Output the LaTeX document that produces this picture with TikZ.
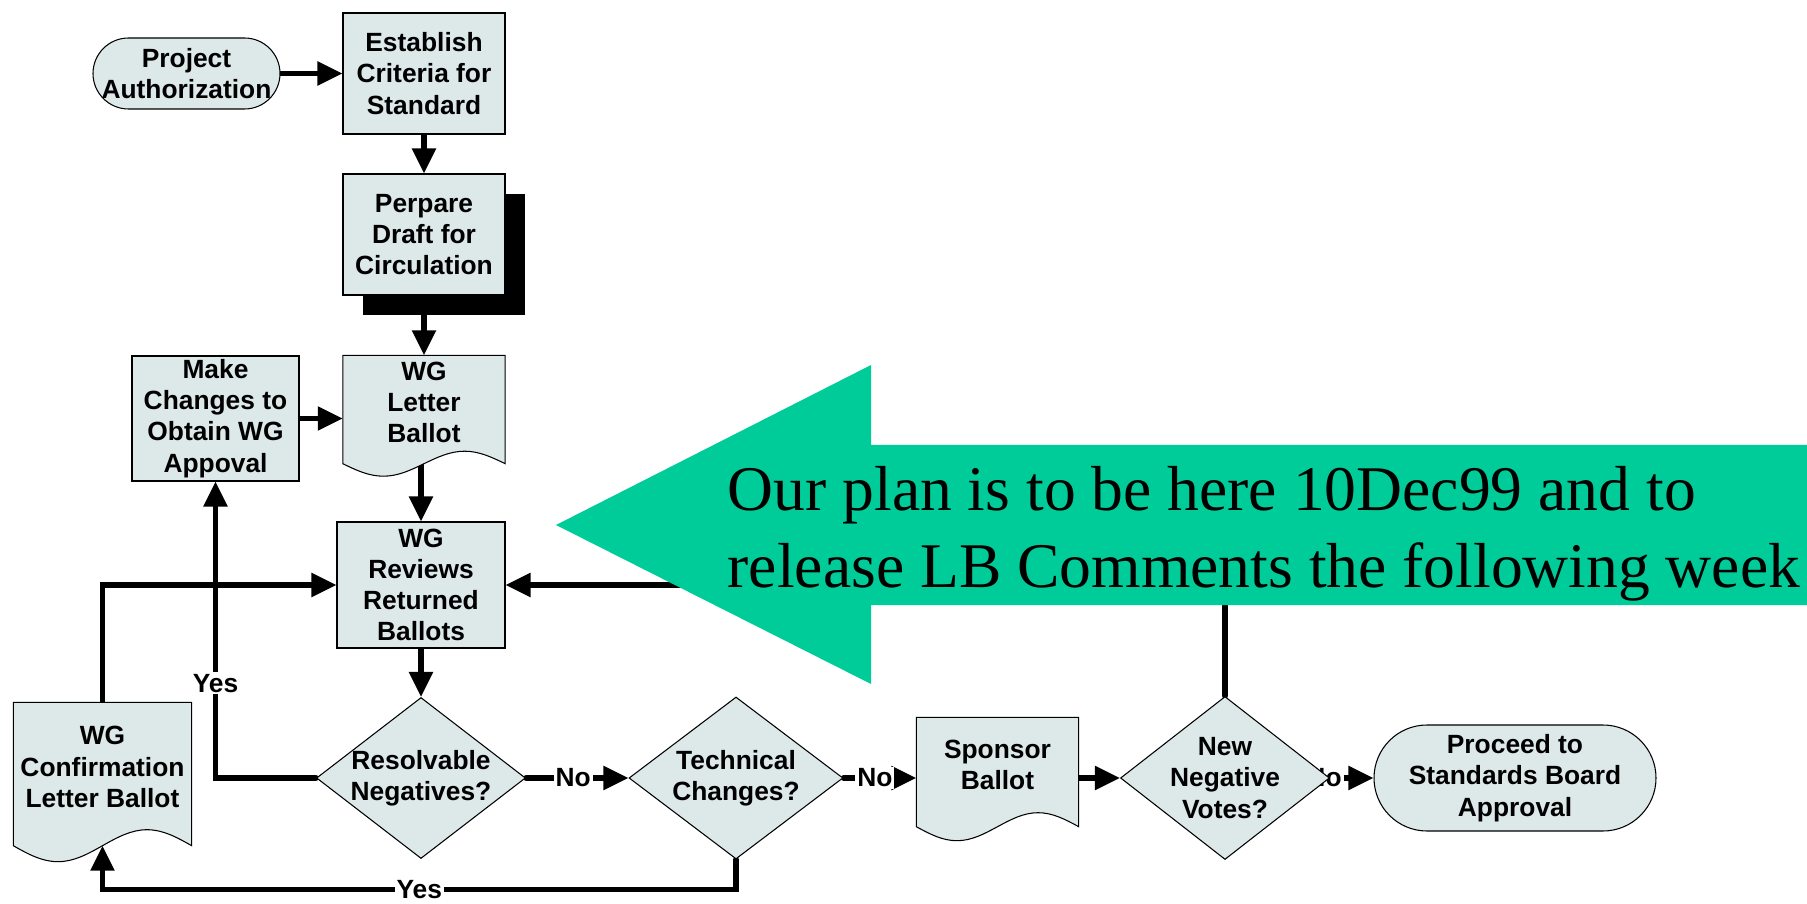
\documentclass[tikz,border=0pt]{standalone}
\usepackage{fontspec}
\setmainfont{Liberation Sans}
\newfontfamily\planfont{Liberation Serif}
\usetikzlibrary{arrows.meta,shapes.geometric,shadows,calc}

\definecolor{boxfill}{RGB}{221,232,232}
\definecolor{plangreen}{RGB}{0,204,153}

\pgfdeclarelayer{lines}
\pgfdeclarelayer{shapes}
\pgfsetlayers{lines,shapes,main}

\tikzset{
  txt/.style={font=\fontsize{7.5}{8.9}\selectfont\bfseries, align=center},
  dims/.style 2 args={minimum width=#1cm, minimum height=#2cm},
  box/.style={txt, draw, line width=0.3pt, fill=boxfill, inner sep=0pt},
  term/.style={box, rounded corners=#1},
  doc/.style={txt, inner sep=0pt, text depth=0.14cm},
  decision/.style={box, diamond, aspect=1.3, inner sep=-0.08cm},
  docline/.style={fill=boxfill, draw, line width=0.3pt},
  flow/.style={line width=0.055cm, line cap=round, -{Triangle[length=0.25cm,width=0.23cm]}},
  lbl/.style={txt, fill=white, inner sep=0.02cm},
  plan/.style={font=\planfont\fontsize{18.1}{21.9}\selectfont, align=left, inner sep=0pt}
}

% wavy bottom of a document box (node, wave height)
\newcommand\docwave[2]{%
  \filldraw[docline] let \p1=(#1.south west), \p2=(#1.north east), \n1={\x2-\x1} in
    (\p1) -- (\x1,\y2) -- (\p2) -- (\x2,\y1)
    sin ({\x2-0.25*\n1},{\y1+#2}) cos ({\x2-0.5*\n1},\y1)
    sin ({\x2-0.75*\n1},{\y1-#2}) cos (\p1) -- cycle;}

\begin{document}
\begin{tikzpicture}
	\useasboundingbox (0,0) rectangle (18.07,9.03);

	% top column
	\node[term=0.355cm, dims={1.87}{0.71}] (proj) at (1.865,8.295) {Project\\Authorization};
	\node[box, dims={1.62}{1.21}] (est) at (4.24,8.295) {Establish\\Criteria for\\Standard};
	\node[box, dims={1.62}{1.21}, drop shadow={shadow xshift=0.2cm, shadow yshift=-0.2cm, fill=black, opacity=1}] (prep) at (4.24,6.685) {Perpare\\Draft for\\Circulation};
	\node[box, dims={1.67}{1.25}] (mk) at (2.155,4.845) {Make\\Changes to\\Obtain WG\\Appoval};
	\node[doc, dims={1.61}{1.07}] (lb) at (4.24,4.935) {WG\\Letter\\Ballot};
	\node[box, dims={1.68}{1.26}] (rev) at (4.21,3.18) {WG\\Reviews\\Returned\\Ballots};

	% bottom row
	\node[doc, dims={1.77}{1.42}] (conf) at (1.025,1.29) {WG\\Confirmation\\Letter Ballot};
	\node[decision, dims={2.09}{1.61}] (res) at (4.21,1.25) {Resolvable\\Negatives?};
	\node[decision, dims={2.14}{1.62}] (tech) at (7.36,1.25) {Technical\\Changes?};
	\node[doc, dims={1.61}{1.08}] (spon) at (9.975,1.31) {Sponsor\\Ballot};
	\node[decision, dims={2.09}{1.63}] (nn) at (12.25,1.25) {New\\Negative\\Votes?};
	\node[term=0.53cm, dims={2.82}{1.06}] (proc) at (15.15,1.25) {Proceed to\\Standards Board\\Approval};

	\begin{pgfonlayer}{shapes}
		\docwave{lb}{0.125cm}
		\docwave{conf}{0.16cm}
		\docwave{spon}{0.14cm}
	\end{pgfonlayer}

	\begin{pgfonlayer}{lines}
		\draw[flow] (proj) -- (est);
		\draw[flow] (est) -- (prep);
		\draw[flow] (prep) -- (lb);
		\draw[flow] (mk.east) -- (mk.east -| lb.west);
		\draw[flow] (lb.south -| rev.north) -- (rev.north);
		\draw[flow] (rev) -- (res);
		\draw[flow] (res.west) -| node[lbl, pos=0.66] {Yes} (mk.south);
		\draw[flow] (res) -- node[lbl, pos=0.46] {No} (tech);
		\draw[flow] (tech.east) -- node[lbl, pos=0.43] {No} (tech.east -| spon.west);
		\draw[flow] (tech.south) -- ++(0,-0.30) -| node[lbl, pos=0.25] {Yes} (conf.south);
		\draw[flow] (conf.north) |- (rev.west);
		\draw[flow] (spon.east |- nn.west) -- (nn.west);
		\draw[flow] (nn.north) |- (rev.east);
		\draw[flow] (nn.east) -- (nn.east -| proc.west);
		\node[lbl] (no4) at ([xshift=-0.06cm]nn.east) {No};
	\end{pgfonlayer}

	% big green pointer
	\fill[plangreen] (18.07,4.58) -- (8.71,4.58) -- (8.71,5.38) -- (5.56,3.78)
		-- (8.71,2.19) -- (8.71,2.98) -- (18.07,2.98) -- cycle;
	\node[plan, anchor=west] (note) at (7.27,3.69) {Our plan is to be here 10Dec99 and to\\release LB Comments the following week};
\end{tikzpicture}
\end{document}
